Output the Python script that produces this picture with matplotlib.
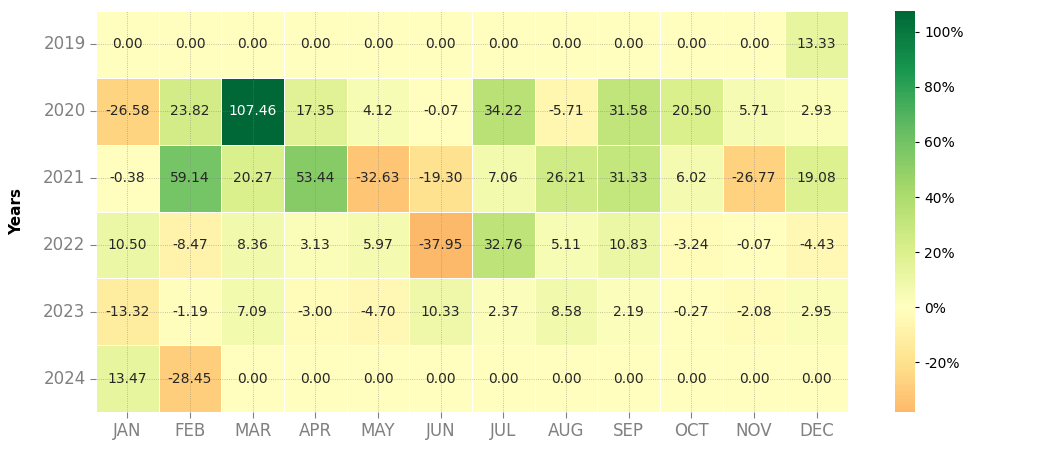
import numpy as np
import pandas as pd
import matplotlib
matplotlib.use("Agg")
import matplotlib.pyplot as plt
import seaborn as sns

years = ["2019", "2020", "2021", "2022", "2023", "2024"]
months = ["JAN", "FEB", "MAR", "APR", "MAY", "JUN",
          "JUL", "AUG", "SEP", "OCT", "NOV", "DEC"]

r2019 = [0.00, 0.00, 0.00, 0.00, 0.00, 0.00, 0.00, 0.00, 0.00, 0.00, 0.00, 13.33]
r2020 = [-26.58, 23.82, 107.46, 17.35, 4.12, -0.07, 34.22, -5.71, 31.58, 20.50, 5.71, 2.93]
r2021 = [-0.38, 59.14, 20.27, 53.44, -32.63, -19.30, 7.06, 26.21, 31.33, 6.02, -26.77, 19.08]
r2022 = [10.50, -8.47, 8.36, 3.13, 5.97, -37.95, 32.76, 5.11, 10.83, -3.24, -0.07, -4.43]
r2023 = [-13.32, -1.19, 7.09, -3.00, -4.70, 10.33, 2.37, 8.58, 2.19, -0.27, -2.08, 2.95]
r2024 = [13.47, -28.45, 0.00, 0.00, 0.00, 0.00, 0.00, 0.00, 0.00, 0.00, 0.00, 0.00]

df = pd.DataFrame([r2019, r2020, r2021, r2022, r2023, r2024],
                  index=years, columns=months)

fig = plt.figure(figsize=(10.51, 4.55), dpi=100)
W, H = 1051, 455
ax = fig.add_axes([96 / W, (H - 412) / H, (848 - 96) / W, (412 - 11) / H])
cax = fig.add_axes([895 / W, (H - 412) / H, 20 / W, (412 - 11) / H])

sns.heatmap(df, ax=ax, cbar_ax=cax, cmap="RdYlGn", center=0,
            annot=True, fmt=".2f", annot_kws={"size": 10},
            linewidths=0.5, linecolor="white",
            cbar_kws={"format": "%.0f%%"})

ax.grid(True, color="grey", linestyle=":", linewidth=0.6, alpha=0.6)
ax.set_xlabel("")
ax.set_ylabel("Years", fontsize=11, fontweight="bold", labelpad=14)
ax.tick_params(axis="both", colors="grey", labelsize=12, length=4)
plt.setp(ax.get_yticklabels(), rotation=0)
cax.tick_params(labelsize=10, colors="black", length=3)
cax.set_frame_on(False)

fig.savefig("out.png", dpi=100)
